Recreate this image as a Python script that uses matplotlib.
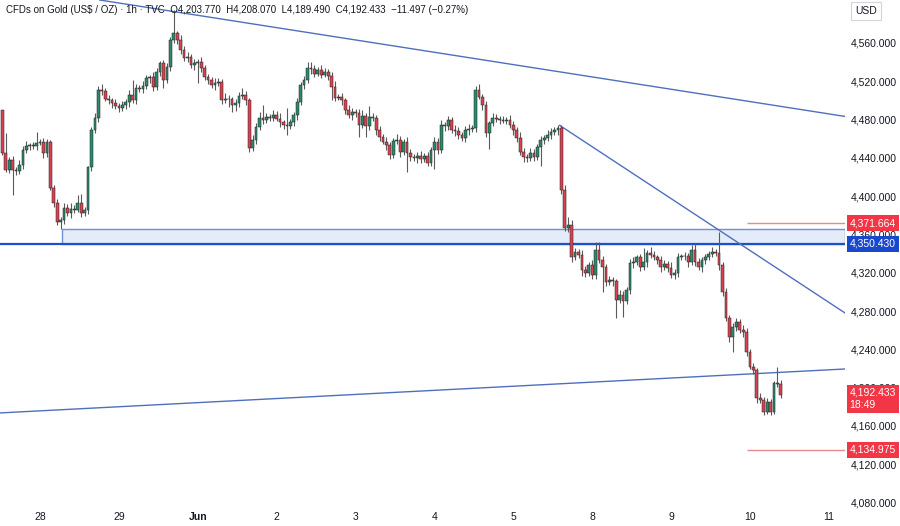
import numpy as np
import matplotlib.pyplot as plt
import matplotlib.transforms as mtransforms
from matplotlib.patches import Rectangle

plt.rcParams['font.family'] = ['Liberation Sans', 'DejaVu Sans']

# hourly candles (open of first bar, then closes)
first_open = 4490
closes = [
    4445, 4427, 4438, 4427, 4426, 4433, 4448, 4452, 4453, 4452,
    4456, 4457, 4445, 4457, 4409, 4393, 4373, 4375, 4388, 4382,
    4387, 4386, 4393, 4382, 4386, 4430, 4469, 4482, 4511, 4510,
    4502, 4500, 4497, 4494, 4492, 4495, 4498, 4506, 4500, 4513,
    4512, 4515, 4523, 4524, 4514, 4530, 4539, 4521, 4535, 4563,
    4570, 4563, 4553, 4544, 4545, 4537, 4539, 4540, 4534, 4524,
    4521, 4516, 4518, 4519, 4500, 4502, 4501, 4495, 4497, 4505,
    4506, 4500, 4450, 4459, 4472, 4482, 4480, 4483, 4482, 4485,
    4481, 4477, 4474, 4473, 4477, 4485, 4498, 4516, 4521, 4534,
    4533, 4528, 4532, 4527, 4530, 4526, 4514, 4503, 4504, 4500,
    4490, 4485, 4488, 4487, 4474, 4484, 4473, 4483, 4482, 4469,
    4462, 4457, 4453, 4443, 4458, 4459, 4446, 4457, 4445, 4441,
    4440, 4442, 4439, 4442, 4435, 4448, 4457, 4448, 4474, 4473,
    4480, 4469, 4468, 4464, 4461, 4469, 4470, 4471, 4511, 4504,
    4495, 4466, 4476, 4482, 4481, 4480, 4479, 4480, 4474, 4469,
    4461, 4446, 4441, 4440, 4445, 4441, 4451, 4459, 4461, 4464,
    4467, 4469, 4471, 4406, 4367, 4370, 4336, 4342, 4339, 4323,
    4320, 4328, 4318, 4344, 4333, 4326, 4310, 4312, 4311, 4292,
    4297, 4290, 4302, 4330, 4331, 4336, 4326, 4331, 4341, 4339,
    4336, 4333, 4326, 4329, 4325, 4318, 4320, 4336, 4337, 4338,
    4331, 4344, 4331, 4326, 4333, 4336, 4340, 4342, 4341, 4328,
    4300, 4273, 4253, 4263, 4269, 4260, 4258, 4237, 4222, 4218,
    4189, 4187, 4175, 4185, 4175, 4205, 4203.77, 4192.433,
]

# wick lengths above / below the body
wick_up = [
    0, 21, 3, 4, 3, 5, 4, 6, 3, 4,
    11, 3, 4, 3, 2, 3, 4, 3, 5, 4,
    6, 4, 8, 9, 3, 2, 3, 5, 4, 6,
    3, 4, 3, 5, 3, 4, 3, 5, 15, 4,
    3, 5, 4, 3, 6, 4, 2, 3, 4, 3,
    24, 3, 5, 4, 6, 3, 4, 3, 5, 3,
    4, 3, 5, 4, 3, 6, 4, 3, 5, 4,
    7, 4, 3, 5, 4, 6, 13, 4, 3, 5,
    4, 6, 3, 18, 4, 3, 5, 3, 4, 6,
    6, 4, 3, 5, 4, 3, 4, 6, 3, 4,
    3, 5, 4, 3, 4, 6, 3, 11, 4, 3,
    4, 3, 5, 4, 3, 6, 4, 3, 5, 4,
    3, 4, 5, 3, 4, 3, 5, 4, 6, 3,
    4, 3, 5, 4, 3, 4, 5, 3, 4, 6,
    3, 4, 3, 5, 4, 3, 4, 3, 5, 4,
    3, 6, 4, 3, 5, 4, 3, 4, 3, 5,
    4, 3, 3, 3, 6, 8, 5, 4, 3, 5,
    4, 3, 5, 8, 8, 4, 3, 5, 4, 3,
    5, 4, 3, 4, 5, 3, 4, 15, 3, 6,
    4, 3, 5, 4, 3, 6, 4, 5, 3, 4,
    3, 5, 7, 4, 3, 4, 3, 5, 3, 22,
    3, 4, 3, 5, 4, 3, 5, 4, 3, 4,
    3, 5, 3, 4, 3, 2, 17, 4.3,
]
wick_dn = [
    2, 2, 3, 26, 4, 3, 5, 3, 4, 3,
    4, 3, 5, 4, 3, 4, 3, 7, 4, 3,
    5, 4, 3, 4, 3, 5, 4, 3, 5, 4,
    3, 4, 5, 3, 4, 3, 4, 5, 3, 4,
    3, 4, 3, 5, 4, 3, 4, 8, 3, 4,
    3, 4, 5, 3, 4, 3, 5, 21, 4, 3,
    4, 3, 5, 3, 4, 3, 8, 7, 6, 4,
    3, 5, 4, 3, 4, 3, 5, 4, 3, 4,
    3, 5, 4, 9, 3, 4, 5, 3, 4, 3,
    5, 4, 3, 4, 3, 5, 14, 4, 3, 5,
    4, 3, 5, 4, 12, 3, 11, 4, 3, 5,
    4, 3, 5, 4, 3, 4, 5, 3, 20, 4,
    3, 5, 4, 3, 4, 3, 20, 4, 3, 5,
    4, 3, 5, 4, 3, 4, 5, 3, 4, 3,
    5, 4, 17, 3, 4, 5, 3, 4, 3, 5,
    4, 3, 5, 4, 3, 4, 3, 20, 4, 3,
    4, 3, 5, 4, 3, 4, 5, 3, 4, 6,
    4, 3, 5, 4, 3, 26, 4, 3, 5, 19,
    4, 16, 3, 4, 5, 3, 4, 3, 5, 4,
    3, 4, 5, 3, 4, 3, 5, 4, 3, 4,
    5, 3, 4, 3, 5, 4, 3, 4, 3, 5,
    4, 3, 5, 16, 4, 3, 5, 4, 3, 4,
    5, 3, 4, 3, 4, 3, 3, 2.9,
]

day_labels = ["28", "29", "Jun", "2", "3", "4", "5", "8", "9", "10", "11"]
day_first_bar = [11, 34, 57, 80, 103, 126, 149, 172, 195, 218, 241]
price_ticks = [4080, 4120, 4160, 4200, 4240, 4280, 4320, 4360, 4400,
               4440, 4480, 4520, 4560]

zone_top = 4366
support = 4350.430
upper_level = 4371.664
lower_level = 4134.975
last_price = 4192.433

# drawn trend lines: (bar, price) pairs
trend_lines = [
    [(28.4, 4604.9), (245.7, 4483.3)],
    [(162.5, 4474.0), (245.7, 4278.0)],
    [(-0.7, 4173.6), (245.7, 4219.5)],
]

header = ("CFDs on Gold (US$ / OZ) \u00b7 1h \u00b7 TVC  O4,203.770  H4,208.070  "
          "L4,189.490  C4,192.433  \u221211.497 (\u22120.27%)")

closes = np.array(closes, dtype=float)
opens = np.concatenate([[first_open], closes[:-1]])
highs = np.maximum(opens, closes) + np.array(wick_up)
lows = np.minimum(opens, closes) - np.array(wick_dn)
idx = np.arange(len(closes))
up = closes >= opens

fig = plt.figure(figsize=(9, 5.26), dpi=100)
ax = fig.add_axes([0, 18 / 526, 845 / 900, 508 / 526])
ax.set_xlim(-0.67, 245.7)
ax.set_ylim(4074.3, 4604.9)

# zone + levels
ax.add_patch(Rectangle((17.4, support), 245.7 - 17.4, zone_top - support,
                       facecolor="#e4ebf9", edgecolor="#6f8fd6", lw=1, zorder=1))
ax.axhline(support, color="#1f4fc9", lw=1.6, zorder=2)
ax.hlines([upper_level, lower_level], 217, 245.7, color="#e58a8e", lw=1, zorder=2)

for (x0, y0), (x1, y1) in trend_lines:
    ax.plot([x0, x1], [y0, y1], color="#4f6fbd", lw=1, zorder=2)

# candles
ax.vlines(idx, lows, highs, color="#5a5a5a", lw=0.8, zorder=3)
colors = np.where(up, "#2b8a6e", "#d9434f")
ax.bar(idx, closes - opens, bottom=opens, width=0.8, color=colors,
       edgecolor="#222222", linewidth=0.35, zorder=4)

for s in ax.spines.values():
    s.set_visible(False)

ax.yaxis.tick_right()
ax.set_yticks(price_ticks)
ax.set_yticklabels([f"{v:,.3f}" for v in price_ticks])
ax.tick_params(axis="y", length=0, pad=4, labelsize=7.5, labelcolor="#131722")
ax.set_xticks(day_first_bar)
ax.set_xticklabels(day_labels)
ax.tick_params(axis="x", length=0, pad=3, labelsize=7.5, labelcolor="#131722")
ax.get_xticklabels()[2].set_fontweight("bold")

# price tags on the right scale
blend = mtransforms.blended_transform_factory(ax.transAxes, ax.transData)
for val, col in [(upper_level, "#f23645"), (support, "#1848cc"),
                 (lower_level, "#f23645")]:
    ax.text(1.0055, val, f"{val:,.3f}", transform=blend, ha="left", va="center",
            color="white", fontsize=7.5, clip_on=False, zorder=10,
            bbox=dict(boxstyle="square,pad=0.3", fc=col, ec="none"))
ax.annotate(f"{last_price:,.3f}\n18:49", xy=(1.0055, last_price), xycoords=blend,
            xytext=(0, 5), textcoords="offset points", ha="left", va="top",
            color="white", fontsize=7.5, linespacing=1.3, annotation_clip=False,
            zorder=10, bbox=dict(boxstyle="square,pad=0.3", fc="#f23645", ec="none"))

fig.text(866 / 900, 1 - 11 / 526, "USD", fontsize=7.5, color="#131722",
         ha="center", va="center",
         bbox=dict(boxstyle="square,pad=0.4", fc="white", ec="#d1d4dc", lw=0.8))
fig.text(6 / 900, 1 - 10 / 526, header, fontsize=7, color="#131722",
         ha="left", va="center")

fig.savefig("out.png", dpi=100)
